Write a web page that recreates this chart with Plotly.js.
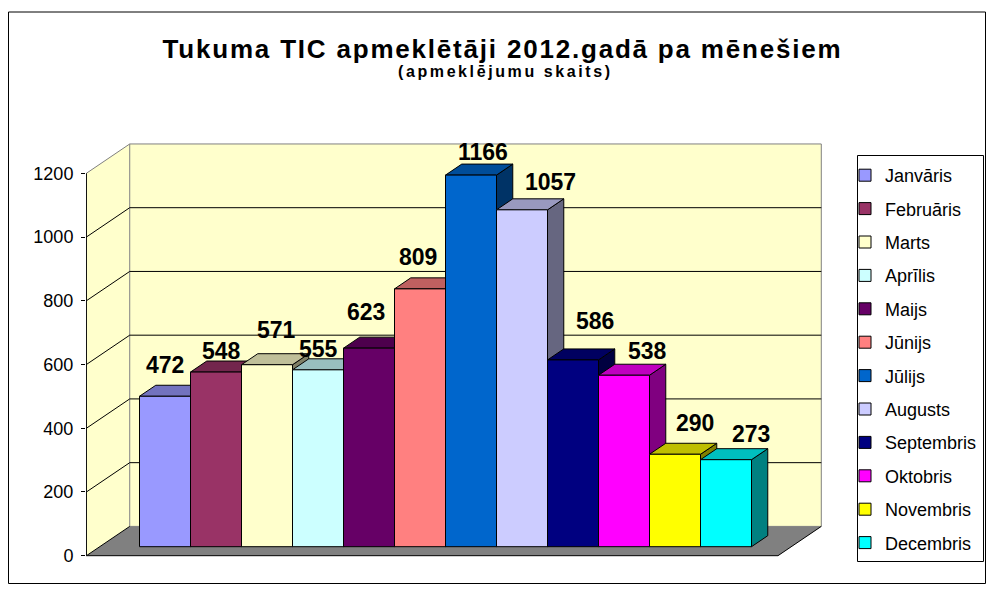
<!DOCTYPE html>
<html>
<head>
<meta charset="utf-8">
<script src="https://cdn.plot.ly/plotly-3.0.1.min.js"></script>
<style>html,body{margin:0;padding:0;background:#fff;}#chart{width:987px;height:597px;}</style>
</head>
<body>
<div id="chart"></div>
<script>
// ---- data ----
const months = ['Janvāris','Februāris','Marts','Aprīlis','Maijs','Jūnijs','Jūlijs','Augusts','Septembris','Oktobris','Novembris','Decembris'];
const visitors = [472, 548, 571, 555, 623, 809, 1166, 1057, 586, 538, 290, 273];
const yTickVals = [0, 200, 400, 600, 800, 1000, 1200];
const titleText = 'Tukuma TIC apmeklētāji 2012.gadā pa mēnešiem';
const subtitleText = '(apmeklējumu skaits)';

// ---- styles ----
const monthColors = ['#9999FF','#993366','#FFFFCC','#CCFFFF','#660066','#FF8080','#0066CC','#CCCCFF','#000080','#FF00FF','#FFFF00','#00FFFF'];
const labelNudgeX = [0, 5, 9, 0, -3, -2, 12, 28, 22, 23, 20, 25];
const labelRise = [31, 21, 35, 21, 36, 32, 23, 28, 39, 24, 31, 26];

const FONT = 'Liberation Sans, Arial, sans-serif';
const W = 987, H = 597;
const mar = {l: 86, r: 147, t: 130, b: 22, pad: 0, autoexpand: false};
const catPx = 51, cat0Px = 165, unitPx = 0.3187, zeroPx = 555.7;
const depthPx = [43.3, 29.3];
const f1 = 0.307, f2 = 0.683, gapCat = 0.78;

const xRange = [(mar.l - cat0Px) / catPx, (W - mar.r - cat0Px) / catPx];
const yRange = [(zeroPx - (H - mar.b)) / unitPx, (zeroPx - mar.t) / unitPx];
const DX = depthPx[0] / catPx, DY = depthPx[1] / unitPx;
const n = visitors.length;
const floorL = -0.5 - gapCat - f1 * DX;
const floorR = (n - 0.5) + gapCat - f1 * DX;
const yMax = yTickVals[yTickVals.length - 1];

function shade(hex, k) {
  const r = parseInt(hex.slice(1,3),16), g = parseInt(hex.slice(3,5),16), b = parseInt(hex.slice(5,7),16);
  return 'rgb(' + Math.round(r*k) + ',' + Math.round(g*k) + ',' + Math.round(b*k) + ')';
}
function poly(xs, ys, fill, lc, lw) {
  return {type: 'scatter', mode: 'lines', x: xs.concat([xs[0]]), y: ys.concat([ys[0]]),
    fill: 'toself', fillcolor: fill, line: {color: lc || fill, width: lw === undefined ? 1 : lw},
    hoverinfo: 'skip', showlegend: false};
}
function seg(xs, ys, color) {
  return {type: 'scatter', mode: 'lines', x: xs, y: ys, line: {color: color, width: 1},
    hoverinfo: 'skip', showlegend: false};
}

const traces = [];
// walls and floor
traces.push(poly([floorL, floorL+DX, floorL+DX, floorL], [0, DY, yMax+DY, yMax], '#FFFFCC', '#FFFFCC', 0));
traces.push(poly([floorL+DX, floorR+DX, floorR+DX, floorL+DX], [DY, DY, yMax+DY, yMax+DY], '#FFFFCC', '#808080', 1));
traces.push(poly([floorL, floorR, floorR+DX, floorL+DX], [0, 0, DY, DY], '#808080', '#808080', 0));
yTickVals.forEach(function(v) {
  if (v > 0 && v < yMax) traces.push(seg([floorL, floorL+DX, floorR+DX], [v, v+DY, v+DY], '#000000'));
});
traces.push(seg([floorL, floorL+DX], [yMax, yMax+DY], '#808080'));
traces.push(seg([floorL+DX, floorL, floorR, floorR+DX], [DY, 0, 0, DY], '#000000'));
traces.push(seg([floorL, floorL], [0, yMax], '#000000'));

// bars
const b0 = f1 * DY, bdx = (f2 - f1) * DX, bdy = (f2 - f1) * DY;
visitors.forEach(function(v, i) {
  const xl = i - 0.5, xr = i + 0.5, top = b0 + v, c = monthColors[i];
  traces.push(poly([xr, xr+bdx, xr+bdx, xr], [b0, b0+bdy, top+bdy, top], shade(c, 0.5), '#000000', 1));
  traces.push(poly([xl, xr, xr+bdx, xl+bdx], [top, top, top+bdy, top+bdy], shade(c, 0.75), '#000000', 1));
  traces.push(poly([xl, xr, xr, xl], [b0, b0, top, top], c, '#000000', 1));
});

// legend entries
months.forEach(function(m, i) {
  traces.push({type: 'bar', x: [null], y: [null], name: m, legendgroup: 'g' + i,
    marker: {color: monthColors[i], line: {color: '#000000', width: 1}}, hoverinfo: 'skip'});
});

const plotW = W - mar.l - mar.r, plotH = H - mar.t - mar.b;
const px2x = function(px) { return (px - mar.l) / plotW; };
const px2y = function(py) { return ((H - mar.b) - py) / plotH; };

const annotations = visitors.map(function(v, i) {
  return {x: i, y: b0 + v, xref: 'x', yref: 'y', text: '<b>' + v + '</b>', showarrow: false,
    xanchor: 'center', yanchor: 'middle', xshift: labelNudgeX[i], yshift: labelRise[i],
    font: {family: FONT, size: 23, color: '#000000'}};
});
annotations.push({x: px2x(505.8), y: px2y(71), xref: 'paper', yref: 'paper', showarrow: false,
  xanchor: 'center', yanchor: 'middle',
  text: '<b><span style="letter-spacing:2.6px">' + subtitleText + '</span></b>',
  font: {family: FONT, size: 16, color: '#000000'}});

const layout = {
  width: W, height: H, margin: mar,
  paper_bgcolor: '#ffffff', plot_bgcolor: 'rgba(0,0,0,0)',
  title: {text: '<b><span style="letter-spacing:1.8px">' + titleText + '</span></b>',
    font: {family: FONT, size: 26, color: '#000000'},
    x: 502.5 / W, xref: 'container', xanchor: 'center', y: 1 - 48.5 / H, yref: 'container', yanchor: 'middle'},
  xaxis: {type: 'linear', range: xRange, visible: false, fixedrange: true},
  yaxis: {type: 'linear', range: yRange, showgrid: false, zeroline: false, showline: false,
    tickmode: 'array', tickvals: yTickVals, ticktext: yTickVals.map(String),
    ticks: 'outside', ticklen: 4, tickwidth: 1, tickcolor: '#000000', ticklabelstandoff: 4,
    tickfont: {family: FONT, size: 18, color: '#000000'}, fixedrange: true},
  showlegend: true,
  legend: {x: px2x(845), y: px2y(157), xanchor: 'left', yanchor: 'top',
    bgcolor: 'rgba(0,0,0,0)', borderwidth: 0, traceorder: 'grouped', tracegroupgap: 7,
    font: {family: FONT, size: 18, color: '#000000'}},
  annotations: annotations,
  shapes: [
    {type: 'rect', xref: 'paper', yref: 'paper', x0: px2x(8.5), x1: px2x(985.5), y0: px2y(583.5), y1: px2y(12), line: {color: '#000000', width: 1}, fillcolor: 'rgba(0,0,0,0)'},
    {type: 'rect', xref: 'paper', yref: 'paper', x0: px2x(857.5), x1: px2x(983.5), y0: px2y(561.5), y1: px2y(155.5), line: {color: '#000000', width: 1}, fillcolor: 'rgba(0,0,0,0)'}
  ]
};

Plotly.newPlot('chart', traces, layout, {displayModeBar: false, staticPlot: true});
</script>
</body>
</html>
